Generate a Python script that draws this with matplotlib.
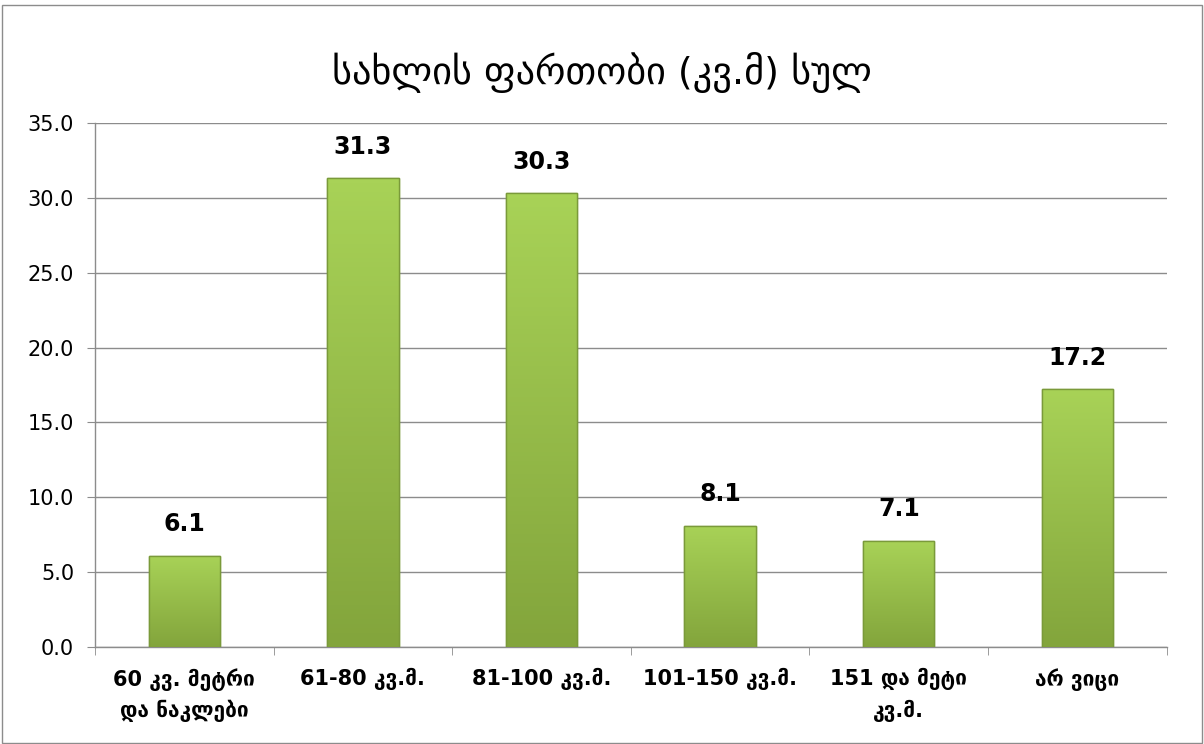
import matplotlib
matplotlib.use("Agg")
import matplotlib.pyplot as plt
from matplotlib.patches import Rectangle
import numpy as np

categories = ["60 კვ. მეტრი\nდა ნაკლები", "61-80 კვ.მ.", "81-100 კვ.მ.",
              "101-150 კვ.მ.", "151 და მეტი\nკვ.მ.", "არ ვიცი"]
values = [6.1, 31.3, 30.3, 8.1, 7.1, 17.2]
yticks = [0, 5, 10, 15, 20, 25, 30, 35]
title = "სახლის ფართობი (კვ.მ) სულ"

FAM = ["DejaVu Sans"]
plt.rcParams["font.family"] = FAM

fig = plt.figure(figsize=(12.04, 7.44), dpi=100)
ax = fig.add_axes([0.0789, 0.1304, 0.8901, 0.7043])

x = np.arange(len(categories))
bars = ax.bar(x, values, width=0.40, color="#96c04a", edgecolor="#7d9e3c",
              linewidth=1.0, zorder=3)

cmap = matplotlib.colors.LinearSegmentedColormap.from_list("g", ["#83a53c", "#a8d257"])
for b in bars:
    x0, y0 = b.get_x(), b.get_y()
    w, h = b.get_width(), b.get_height()
    grad = np.linspace(0, 1, 100).reshape(-1, 1)
    im = ax.imshow(grad, extent=[x0, x0 + w, y0, y0 + h], aspect="auto",
                   cmap=cmap, origin="lower", zorder=3.5)
    im.set_clip_path(b)
    ax.add_patch(Rectangle((x0, y0), w, h, fill=False, edgecolor="#7a9a3a",
                           linewidth=1.0, zorder=4))

for xi, v in zip(x, values):
    ax.text(xi, v + 1.3, f"{v:.1f}", ha="center", va="bottom", fontsize=17,
            fontweight="bold", color="black")

ax.set_xlim(-0.5, len(categories) - 0.5)
ax.set_ylim(0, 35)
ax.set_yticks(yticks)
ax.set_yticklabels([f"{t:.1f}" for t in yticks], fontsize=15)
ax.yaxis.grid(True, color="#8c8c8c", linewidth=1.0, zorder=0)
ax.set_axisbelow(True)

ax.set_xticks(x)
ax.set_xticklabels(categories, fontsize=15, fontweight="bold", linespacing=1.55)
ax.tick_params(axis="x", length=0, pad=15)
ax.set_xticks(np.arange(-0.5, len(categories)), minor=True)
ax.tick_params(axis="x", which="minor", length=6, color="#8c8c8c", direction="out")
ax.tick_params(axis="y", length=6, color="#8c8c8c", direction="out", pad=9)

for s in ["top", "right"]:
    ax.spines[s].set_visible(False)
for s in ["left", "bottom"]:
    ax.spines[s].set_color("#8c8c8c")
    ax.spines[s].set_linewidth(1.0)

fig.text(0.5, 0.903, title, ha="center", va="center", fontsize=27.5)

fig.patches.append(Rectangle((0.002, 0.002), 0.996, 0.991, transform=fig.transFigure,
                             fill=False, edgecolor="#8c8c8c", linewidth=1.0))

fig.savefig("out.png", dpi=100)
